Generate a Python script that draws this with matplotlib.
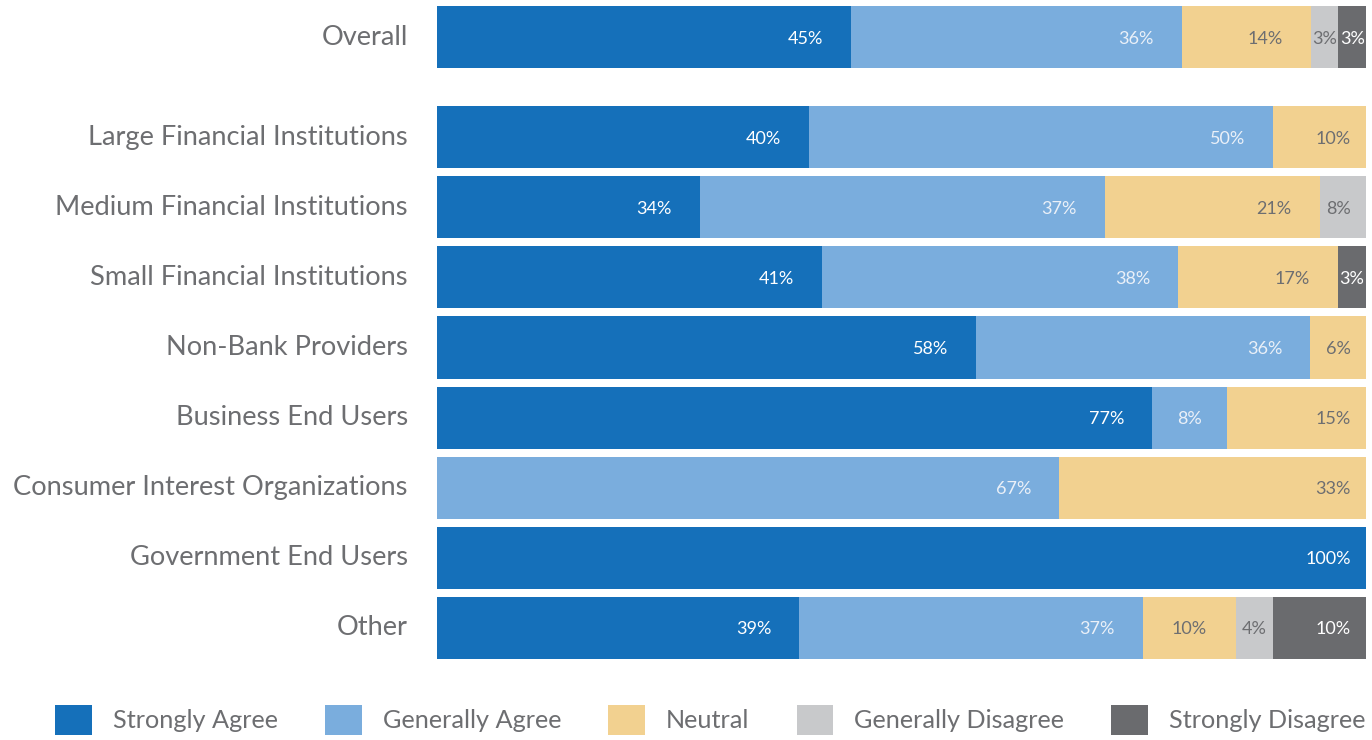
import matplotlib
matplotlib.use("Agg")
import matplotlib.pyplot as plt
from matplotlib.patches import Patch
import numpy as np

plt.rcParams['font.family'] = ['Lato', 'DejaVu Sans']

categories = ["Overall", "Large Financial Institutions", "Medium Financial Institutions",
              "Small Financial Institutions", "Non-Bank Providers", "Business End Users",
              "Consumer Interest Organizations", "Government End Users", "Other"]
series = ["Strongly Agree", "Generally Agree", "Neutral", "Generally Disagree", "Strongly Disagree"]

# printed percentages (labels)
strongly_agree = [45, 40, 34, 41, 58, 77, 0, 100, 39]
generally_agree = [36, 50, 37, 38, 36, 8, 67, 0, 37]
neutral = [14, 10, 21, 17, 6, 15, 33, 0, 10]
generally_disagree = [3, 0, 8, 0, 0, 0, 0, 0, 4]
strongly_disagree = [3, 0, 0, 3, 0, 0, 0, 0, 10]

# the Medium row's bars in the source are drawn with these shares
medium_bar_shares = [28.3, 43.6, 23.1, 5.0, 0]

colors = ["#1570BA", "#7AADDD", "#F2D190", "#C8C9CB", "#6A6B6E"]
label_colors = ["#FFFFFF", "#EAF0F8", "#6D6E71", "#6D6E71", "#FFFFFF"]
text_gray = "#6D6E71"

W, H = 1372, 740
fig = plt.figure(figsize=(W / 100, H / 100), dpi=100)
ax = fig.add_axes([437 / W, 1 - 659 / H, (1366 - 437) / W, (659 - 6) / H])

vals = np.array([strongly_agree, generally_agree, neutral, generally_disagree, strongly_disagree], dtype=float)
shares = vals.copy()
shares[:, categories.index("Medium Financial Institutions")] = medium_bar_shares
pct = shares / shares.sum(axis=0) * 100

# y positions: Overall separated by a larger gap
ypos = np.array([0.0] + [100 / 70 + i for i in range(len(categories) - 1)])
bar_h = 62 / 70

px_per_unit = (1366 - 437) / 100.0
left = np.zeros(len(categories))
for s in range(len(series)):
    ax.barh(ypos, pct[s], left=left, height=bar_h, color=colors[s], label=series[s], linewidth=0)
    for i in range(len(categories)):
        v = vals[s, i]
        if v <= 0:
            continue
        w = pct[s, i]
        end = left[i] + w
        wpx = w * px_per_unit
        last = end > 99.9
        if last and wpx > 45:
            x, ha = end - 15 / px_per_unit, 'right'
        elif not last and wpx > 100:
            x, ha = end - 28 / px_per_unit, 'right'
        else:
            x, ha = left[i] + w / 2, 'center'
        ax.text(x, ypos[i], f"{int(v)}%", ha=ha, va='center_baseline', fontsize=13,
                color=label_colors[s])
    left += pct[s]

ax.set_xlim(0, 100)
ax.set_ylim(ypos[-1] + 0.443, -0.443)
ax.set_yticks(ypos)
ax.set_yticklabels(categories, fontsize=19.6, color=text_gray, va='center')
ax.tick_params(axis='y', length=0, pad=21)
ax.set_xticks([])
for sp in ax.spines.values():
    sp.set_visible(False)

handles = [Patch(facecolor=c, edgecolor='none') for c in colors]
fig.legend(handles, series, loc='upper left', bbox_to_anchor=(55 / W, 1 - 705 / H),
           ncol=5, frameon=False, fontsize=18.2, labelcolor=text_gray,
           handlelength=1.46, handleheight=1.46, handletextpad=0.83,
           columnspacing=1.86, borderpad=0, borderaxespad=0)

fig.savefig("out.png", dpi=100)
